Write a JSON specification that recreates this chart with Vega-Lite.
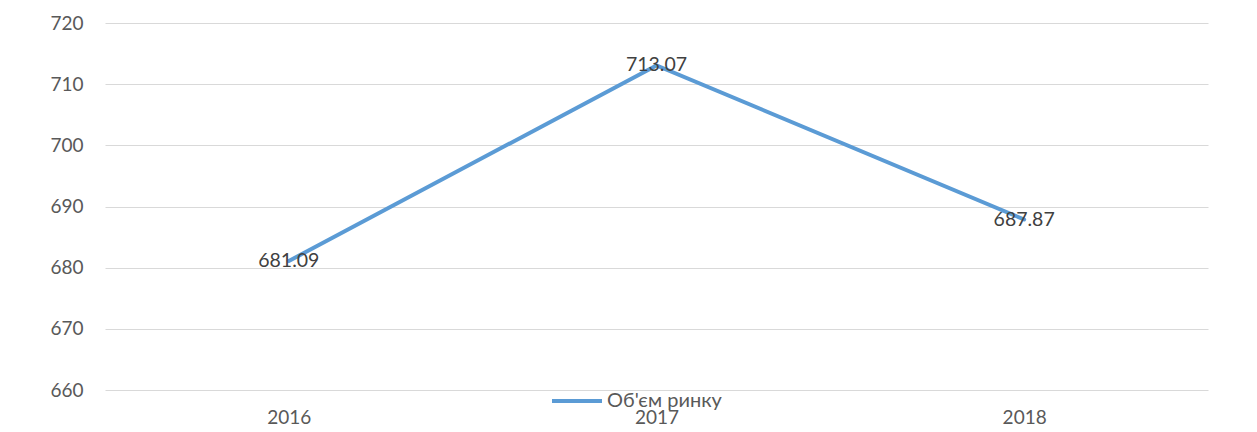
{
  "$schema": "https://vega.github.io/schema/vega-lite/v6.json",
  "width": 1103,
  "height": 367,
  "autosize": {"type": "none"},
  "padding": {"left": 105, "top": 23, "right": 49, "bottom": 42},
  "background": "white",
  "config": {
    "view": {"stroke": null},
    "font": "Lato"
  },
  "data": {
    "values": [
      {"year": "2016", "value": 681.09, "series": "Об'єм ринку"},
      {"year": "2017", "value": 713.07, "series": "Об'єм ринку"},
      {"year": "2018", "value": 687.87, "series": "Об'єм ринку"}
    ]
  },
  "encoding": {
    "x": {
      "field": "year",
      "type": "ordinal",
      "scale": {"type": "point", "padding": 0.5},
      "axis": {
        "title": null,
        "domain": false,
        "ticks": false,
        "grid": false,
        "labelAngle": 0,
        "labelFont": "Lato",
        "labelFontSize": 19,
        "labelColor": "#595959",
        "labelPadding": 18
      }
    },
    "y": {
      "field": "value",
      "type": "quantitative",
      "scale": {"domain": [660, 720], "nice": false, "zero": false},
      "axis": {
        "title": null,
        "values": [660, 670, 680, 690, 700, 710, 720],
        "domain": false,
        "ticks": false,
        "grid": true,
        "gridColor": "#d9d9d9",
        "gridWidth": 1,
        "labelFont": "Lato",
        "labelFontSize": 19,
        "labelColor": "#595959",
        "labelPadding": 22
      }
    }
  },
  "layer": [
    {
      "mark": {"type": "line", "strokeWidth": 4, "strokeCap": "round"},
      "encoding": {
        "color": {
          "field": "series",
          "type": "nominal",
          "scale": {"range": ["#5b9bd5"]},
          "legend": {
            "title": null,
            "orient": "none",
            "legendX": 445,
            "legendY": 351,
            "symbolType": "stroke",
            "symbolSize": 2500,
            "symbolStrokeWidth": 4,
            "labelFont": "Lato",
            "labelFontSize": 20,
            "labelColor": "#595959",
            "labelOffset": 3
          }
        }
      }
    },
    {
      "mark": {"type": "text", "fontSize": 19.5, "color": "#404040", "font": "Lato"},
      "encoding": {
        "text": {"field": "value", "type": "quantitative", "format": ".2f"}
      }
    }
  ]
}
